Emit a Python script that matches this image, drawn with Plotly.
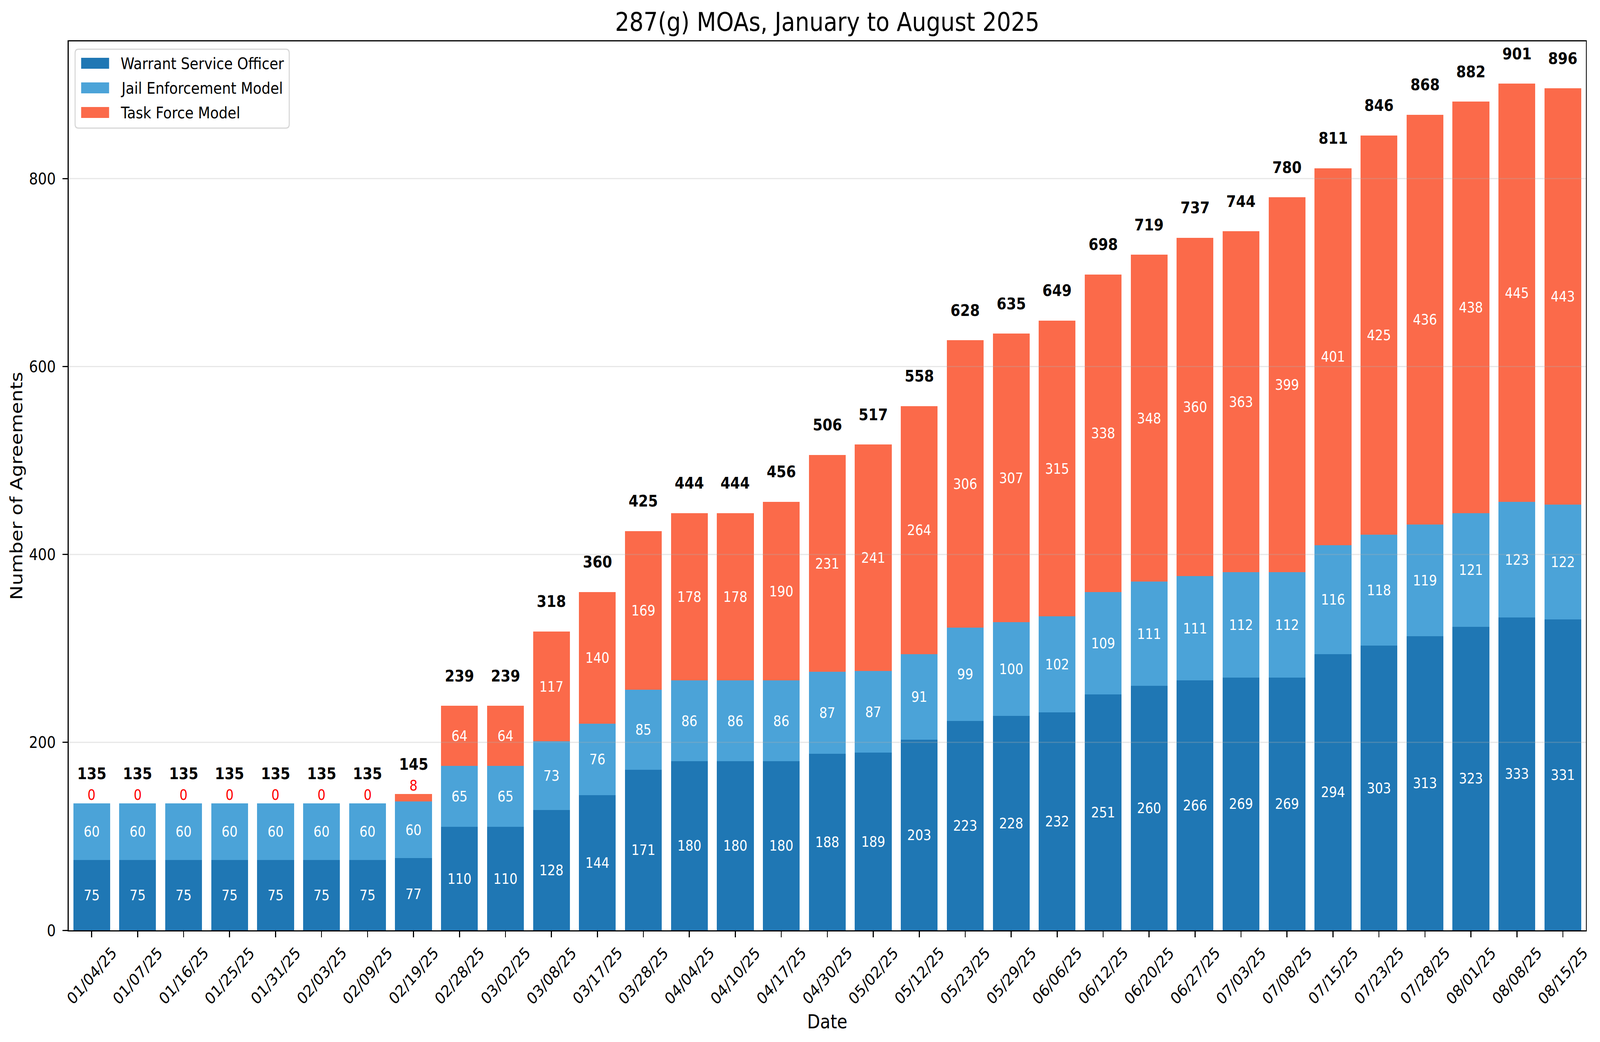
import plotly.graph_objects as go

# ---------------- data ----------------
dates = ["01/04/25", "01/07/25", "01/16/25", "01/25/25", "01/31/25", "02/03/25", "02/09/25",
         "02/19/25", "02/28/25", "03/02/25", "03/08/25", "03/17/25", "03/28/25", "04/04/25",
         "04/10/25", "04/17/25", "04/30/25", "05/02/25", "05/12/25", "05/23/25", "05/29/25",
         "06/06/25", "06/12/25", "06/20/25", "06/27/25", "07/03/25", "07/08/25", "07/15/25",
         "07/23/25", "07/28/25", "08/01/25", "08/08/25", "08/15/25"]
warrant_service = [75, 75, 75, 75, 75, 75, 75, 77, 110, 110, 128, 144, 171, 180, 180, 180, 188,
                   189, 203, 223, 228, 232, 251, 260, 266, 269, 269, 294, 303, 313, 323, 333, 331]
jail_enforcement = [60, 60, 60, 60, 60, 60, 60, 60, 65, 65, 73, 76, 85, 86, 86, 86, 87,
                    87, 91, 99, 100, 102, 109, 111, 111, 112, 112, 116, 118, 119, 121, 123, 122]
task_force = [0, 0, 0, 0, 0, 0, 0, 8, 64, 64, 117, 140, 169, 178, 178, 190, 231,
              241, 264, 306, 307, 315, 338, 348, 360, 363, 399, 401, 425, 436, 438, 445, 443]
series_names = ["Warrant Service Officer", "Jail Enforcement Model", "Task Force Model"]
series_colors = ["#1f77b4", "#4ba3d8", "#fb6a4a"]
y_tick_values = [0, 200, 400, 600, 800]

# ---------------- layout constants (reference pixel space) ----------------
W, H = 4752, 2668
ML, MR, MT, MB = 204, 42, 106, 286
PW, PH = W - ML - MR, H - MT - MB
FONT = "DejaVu Sans"
TICK_FS = 41.7
INNER_FS = 37.5
LABEL_FS = 50
TITLE_FS = 66.7

x_idx = list(range(len(dates)))
totals = [a + b + c for a, b, c in zip(warrant_service, jail_enforcement, task_force)]
y_max = max(totals) * 1.05


def px_x(p):
    return (p - ML) / PW


def px_y(p):
    return (H - MB - p) / PH


fig = go.Figure()
for name, vals, col in zip(series_names, [warrant_service, jail_enforcement, task_force], series_colors):
    txt = [str(v) if v >= 20 else "" for v in vals]
    fig.add_trace(go.Bar(
        x=x_idx, y=vals, name=name, width=0.8,
        marker=dict(color=col, line=dict(width=0)),
        text=txt, textposition="inside", insidetextanchor="middle", textangle=0,
        textfont=dict(family=FONT, size=INNER_FS, color="white"),
        hoverinfo="skip", showlegend=False,
    ))

annotations = []
# totals on top of each stack
for i, tot in zip(x_idx, totals):
    annotations.append(dict(x=i, y=tot, xref="x", yref="y", text=f"<b>{tot}</b>",
                            showarrow=False, xanchor="center", yanchor="middle", yshift=77,
                            font=dict(family=FONT, size=TICK_FS, color="black")))
# small task-force values shown in red above the bar
for i, tot, v in zip(x_idx, totals, task_force):
    if v < 20:
        annotations.append(dict(x=i, y=tot, xref="x", yref="y", text=str(v),
                                showarrow=False, xanchor="center", yanchor="middle", yshift=22,
                                font=dict(family=FONT, size=INNER_FS, color="red")))
# rotated x tick labels (centered under ticks, like matplotlib)
for i, d in zip(x_idx, dates):
    annotations.append(dict(x=i, y=0, xref="x", yref="paper", text=d, textangle=-45,
                            showarrow=False, xanchor="center", yanchor="top", yshift=-30,
                            font=dict(family=FONT, size=TICK_FS, color="black")))

# legend drawn by hand (matplotlib-like large swatches)
shapes = []
lx0, lx1, ly0, ly1 = 223, 859, 126, 328
r = 10
path = (f"M {lx0 + r},{ly0} L {lx1 - r},{ly0} Q {lx1},{ly0} {lx1},{ly0 + r} "
        f"L {lx1},{ly1 - r} Q {lx1},{ly1} {lx1 - r},{ly1} L {lx0 + r},{ly1} "
        f"Q {lx0},{ly1} {lx0},{ly1 - r} L {lx0},{ly0 + r} Q {lx0},{ly0} {lx0 + r},{ly0} Z")


def conv_path(ptxt):
    out = []
    for tok in ptxt.split(" "):
        if "," in tok:
            a, b = tok.split(",")
            out.append(f"{px_x(float(a)):.6f},{px_y(float(b)):.6f}")
        else:
            out.append(tok)
    return " ".join(out)


shapes.append(dict(type="path", xref="paper", yref="paper", path=conv_path(path),
                   fillcolor="rgba(255,255,255,0.8)", line=dict(color="#d6d6d6", width=3),
                   layer="above"))
for k, (name, col) in enumerate(zip(series_names, series_colors)):
    cy = 162 + 63 * k
    shapes.append(dict(type="rect", xref="paper", yref="paper",
                       x0=px_x(241), x1=px_x(324), y0=px_y(cy - 14), y1=px_y(cy + 14),
                       fillcolor=col, line=dict(width=0), layer="above"))
    annotations.append(dict(x=px_x(356), y=px_y(cy), xref="paper", yref="paper", text=name,
                            showarrow=False, xanchor="left", yanchor="middle",
                            font=dict(family=FONT, size=TICK_FS, color="black")))

# horizontal grid lines drawn above the bars
for v in y_tick_values[1:]:
    shapes.append(dict(type="line", xref="paper", yref="y", x0=0, x1=1, y0=v, y1=v,
                       line=dict(color="rgba(176,176,176,0.3)", width=3), layer="above"))

fig.update_layout(
    width=W, height=H,
    margin=dict(l=ML, r=MR, t=MT, b=MB, autoexpand=False),
    barmode="stack",
    plot_bgcolor="white", paper_bgcolor="white",
    font=dict(family=FONT, color="black", size=TICK_FS),
    title=dict(text="287(g) MOAs, January to August 2025", x=0.5, xref="paper", xanchor="center",
               y=1 - 56 / H, yref="container", yanchor="middle",
               font=dict(family=FONT, size=TITLE_FS, color="black")),
    xaxis=dict(range=[-0.5, len(dates) - 0.5], tickmode="array", tickvals=x_idx,
               showticklabels=False, ticks="outside", ticklen=15, tickwidth=3, tickcolor="black",
               showline=True, linecolor="black", linewidth=3, mirror=True,
               showgrid=False, zeroline=False, automargin=False,
               title=dict(text="Date", font=dict(family=FONT, size=LABEL_FS), standoff=200)),
    yaxis=dict(range=[0, y_max], tickmode="array", tickvals=y_tick_values,
               ticks="outside", ticklen=15, tickwidth=3, tickcolor="black",
               tickfont=dict(family=FONT, size=TICK_FS, color="black"), ticklabelstandoff=12,
               showline=True, linecolor="black", linewidth=3, mirror=True,
               showgrid=False, zeroline=False, automargin=False,
               title=dict(text="Number of Agreements", font=dict(family=FONT, size=LABEL_FS),
                          standoff=4)),
    annotations=annotations,
    shapes=shapes,
    uniformtext=dict(minsize=INNER_FS, mode="show"),
)

# The browser viewport may be narrower than the 4752 px reference; scale the finished
# figure to fill the window exactly.
post = """
(function(){
  var gd = document.getElementById('{plot_id}');
  var W = 4752, H = 2668;
  document.documentElement.style.margin = '0';
  document.body.style.margin = '0';
  document.documentElement.style.overflow = 'hidden';
  document.body.style.overflow = 'hidden';
  var sx = window.innerWidth / W, sy = window.innerHeight / H;
  gd.style.transformOrigin = '0 0';
  gd.style.transform = 'scale(' + sx + ',' + sy + ')';
})();
"""
fig.write_html("out.html", config={"displayModeBar": False}, post_script=post)
